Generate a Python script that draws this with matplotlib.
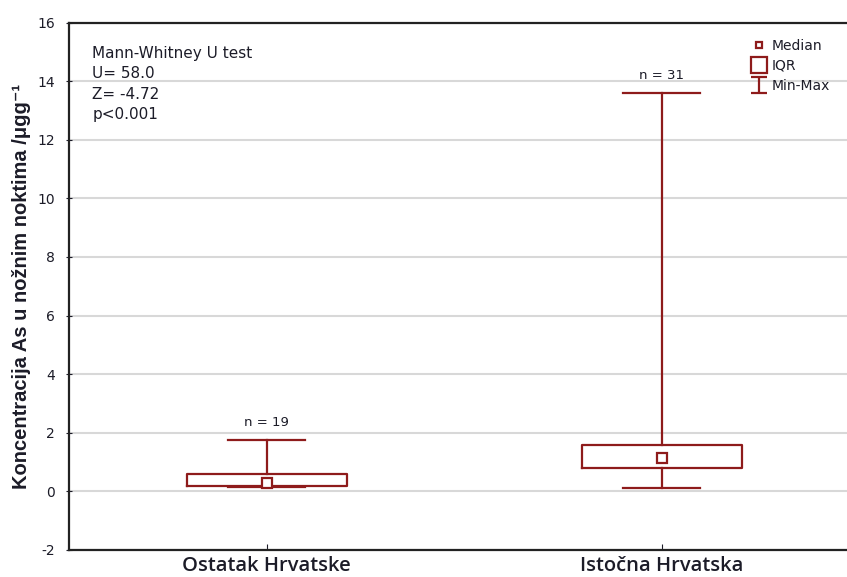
import matplotlib
matplotlib.use('Agg')
import matplotlib.pyplot as plt
from matplotlib.lines import Line2D
from matplotlib.path import Path

# data
groups = ['Ostatak Hrvatske', 'Istočna Hrvatska']
n_vals = [19, 31]
mins = [0.15, 0.12]
q1 = [0.18, 0.80]
medians = [0.29, 1.13]
q3 = [0.60, 1.57]
maxs = [1.76, 13.58]
stat_lines = ['Mann-Whitney U test', 'U= 58.0', 'Z= -4.72', 'p<0.001']

red = '#8e1b1b'
txt = '#1c1c28'

plt.rcParams['font.family'] = ['DejaVu Sans']
plt.rcParams['axes.unicode_minus'] = False

fig = plt.figure(figsize=(8.47, 5.77), dpi=100)
ax = fig.add_axes([0.0815, 0.0468, 0.9327, 0.9142])

stats = []
for i in range(len(groups)):
    stats.append({'med': medians[i], 'q1': q1[i], 'q3': q3[i],
                  'whislo': mins[i], 'whishi': maxs[i], 'mean': medians[i]})

pos = [1, 2]
ax.bxp(stats, positions=pos, widths=0.405, capwidths=0.195, showfliers=False,
       showmeans=True,
       boxprops=dict(color=red, linewidth=1.6),
       whiskerprops=dict(color=red, linewidth=1.6),
       capprops=dict(color=red, linewidth=1.6),
       medianprops=dict(linestyle='none'),
       meanprops=dict(marker='s', markersize=7, markerfacecolor='white',
                      markeredgecolor=red, markeredgewidth=1.6))

for p, n, mx in zip(pos, n_vals, maxs):
    ax.annotate('n = %d' % n, (p, mx), xytext=(0, 8), textcoords='offset points',
                ha='center', va='bottom', fontsize=9.5, color=txt)

ax.set_xlim(0.5, 2.5)
ax.set_ylim(-2, 16)
ax.set_yticks(range(-2, 17, 2))
ax.set_xticks(pos)
ax.set_xticklabels(groups, fontsize=14.5, fontweight='semibold', color=txt,
                   family=['Open Sans', 'DejaVu Sans'])
ax.tick_params(axis='y', labelsize=10, colors=txt, direction='inout', length=4, pad=8)
ax.tick_params(axis='x', direction='in', length=4, pad=4, colors=txt)
ax.yaxis.grid(True, color='#d8d8d8', linewidth=1.5)
ax.set_axisbelow(True)
for s in ['left', 'bottom', 'top']:
    ax.spines[s].set_linewidth(1.6)
    ax.spines[s].set_color('#222222')
ax.spines['right'].set_visible(False)

fig.text(0.025, 0.504, 'Koncentracija As u nožnim noktima /μgg⁻¹', rotation=90,
         ha='center', va='center', fontsize=14.5, fontweight='bold', color=txt,
         family=['Liberation Sans', 'DejaVu Sans'])

for k, line in enumerate(stat_lines):
    fig.text(0.109, 0.908 - k * 0.0355, line, fontsize=11, color=txt, va='center')

# I-beam marker for min-max
ibeam = Path([(-1, -1), (1, -1), (0, -1), (0, 1), (-1, 1), (1, 1)],
             [Path.MOVETO, Path.LINETO, Path.MOVETO, Path.LINETO, Path.MOVETO, Path.LINETO])
handles = [Line2D([], [], linestyle='none', marker='s', markersize=5,
                  markerfacecolor='white', markeredgecolor=red, markeredgewidth=1.6),
           Line2D([], [], linestyle='none', marker='s', markersize=12,
                  markerfacecolor='white', markeredgecolor=red, markeredgewidth=1.6),
           Line2D([], [], linestyle='none', marker=ibeam, markersize=12,
                  markerfacecolor='none', markeredgecolor=red, markeredgewidth=1.6)]
fig.legend(handles, ['Median', 'IQR', 'Min-Max'], loc='upper left',
           bbox_to_anchor=(0.874, 0.954), frameon=False, fontsize=10,
           handlelength=0.9, handletextpad=0.45, labelspacing=0.42,
           labelcolor=txt)

fig.savefig('out.png', dpi=100)
